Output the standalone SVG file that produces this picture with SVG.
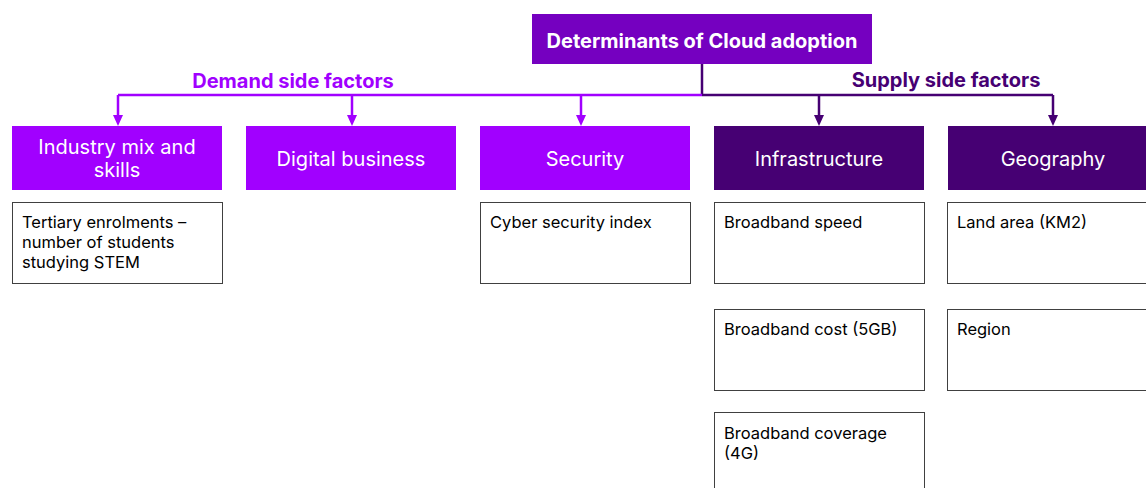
<svg xmlns="http://www.w3.org/2000/svg" width="1146" height="488" viewBox="0 0 1146 488">
  <style>
    .title { fill: #7500C0; }
    .demand { fill: #A100FF; }
    .supply { fill: #460073; }
    .detail { fill: #FFFFFF; stroke: #404040; stroke-width: 1; }
    .t-title { font-family: "Inter", "Liberation Sans", sans-serif; font-weight: 700; font-size: 20px; fill: #FFFFFF; text-anchor: middle; }
    .t-cat { font-family: "Inter", "Liberation Sans", sans-serif; font-size: 20px; fill: #FFFFFF; text-anchor: middle; }
    .t-det { font-family: "Inter", "Liberation Sans", sans-serif; font-size: 16.5px; fill: #000000; }
    .t-side { font-family: "Inter", "Liberation Sans", sans-serif; font-weight: 700; font-size: 20px; text-anchor: middle; }
    .line-l { stroke: #A100FF; stroke-width: 2.5; fill: none; }
    .line-d { stroke: #460073; stroke-width: 2.5; fill: none; }
    .head-l { fill: #A100FF; }
    .head-d { fill: #460073; }
  </style>
  <rect width="1146" height="488" fill="#FFFFFF"/>

  <!-- connectors -->
  <g id="connectors">
    <line class="line-d" x1="702" y1="64" x2="702" y2="95"/>
    <line class="line-l" x1="118" y1="95" x2="702" y2="95"/>
    <line class="line-d" x1="702" y1="95" x2="1053" y2="95"/>
    <path class="line-l" d="M118,95 V118"/>
    <path class="line-l" d="M352,95 V118"/>
    <path class="line-l" d="M581,95 V118"/>
    <path class="line-d" d="M819,95 V118"/>
    <path class="line-d" d="M1053,95 V118"/>
    <path class="head-l" d="M113,115 L123,115 L118,126 Z"/>
    <path class="head-l" d="M347,115 L357,115 L352,126 Z"/>
    <path class="head-l" d="M576,115 L586,115 L581,126 Z"/>
    <path class="head-d" d="M814,115 L824,115 L819,126 Z"/>
    <path class="head-d" d="M1048,115 L1058,115 L1053,126 Z"/>
    <text class="t-side" x="293" y="88" fill="#A100FF">Demand side factors</text>
    <text class="t-side" x="946" y="87" fill="#460073">Supply side factors</text>
  </g>

  <!-- root -->
  <g id="root">
    <rect class="title" x="532" y="14" width="340" height="50"/>
    <text class="t-title" x="702" y="48">Determinants of Cloud adoption</text>
  </g>

  <!-- demand side -->
  <g id="industry">
    <rect class="demand" x="12" y="126" width="210" height="64"/>
    <text class="t-cat" x="117" y="154">Industry mix and</text>
    <text class="t-cat" x="117" y="177">skills</text>
  </g>
  <g id="digital">
    <rect class="demand" x="246" y="126" width="210" height="64"/>
    <text class="t-cat" x="351" y="166">Digital business</text>
  </g>
  <g id="security">
    <rect class="demand" x="480" y="126" width="210" height="64"/>
    <text class="t-cat" x="585" y="166">Security</text>
  </g>

  <!-- supply side -->
  <g id="infrastructure">
    <rect class="supply" x="714" y="126" width="210" height="64"/>
    <text class="t-cat" x="819" y="166">Infrastructure</text>
  </g>
  <g id="geography">
    <rect class="supply" x="948" y="126" width="200" height="64"/>
    <text class="t-cat" x="1053" y="166">Geography</text>
  </g>

  <!-- indicator boxes -->
  <g id="tertiary">
    <rect class="detail" x="12.5" y="202.5" width="210" height="81"/>
    <text class="t-det" x="22" y="228">Tertiary enrolments –</text>
    <text class="t-det" x="22" y="248">number of students</text>
    <text class="t-det" x="22" y="268">studying STEM</text>
  </g>
  <g id="cyber">
    <rect class="detail" x="480.5" y="202.5" width="210" height="81"/>
    <text class="t-det" x="490" y="228">Cyber security index</text>
  </g>
  <g id="bb-speed">
    <rect class="detail" x="714.5" y="202.5" width="210" height="81"/>
    <text class="t-det" x="724" y="228">Broadband speed</text>
  </g>
  <g id="bb-cost">
    <rect class="detail" x="714.5" y="309.5" width="210" height="81"/>
    <text class="t-det" x="724" y="335">Broadband cost (5GB)</text>
  </g>
  <g id="bb-coverage">
    <rect class="detail" x="714.5" y="412.5" width="210" height="81"/>
    <text class="t-det" x="724" y="439">Broadband coverage</text>
    <text class="t-det" x="724" y="459">(4G)</text>
  </g>
  <g id="land">
    <rect class="detail" x="947.5" y="202.5" width="210" height="81"/>
    <text class="t-det" x="957" y="228">Land area (KM2)</text>
  </g>
  <g id="region">
    <rect class="detail" x="947.5" y="309.5" width="210" height="81"/>
    <text class="t-det" x="957" y="335">Region</text>
  </g>
</svg>
